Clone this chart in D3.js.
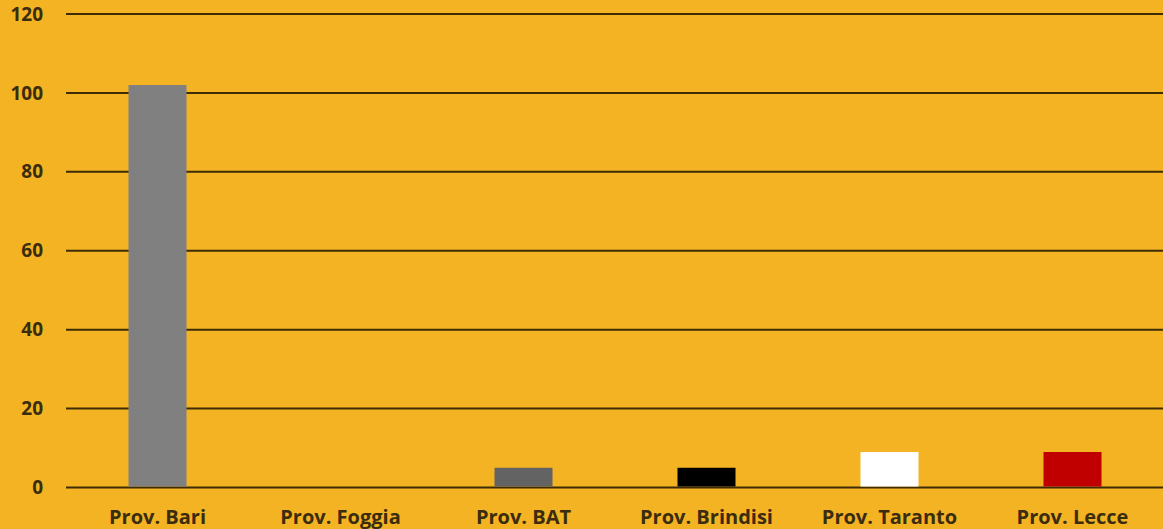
<!DOCTYPE html>
<html lang="it">
<head>
<meta charset="utf-8">
<title>Province</title>
<script src="https://cdn.jsdelivr.net/npm/d3@7"></script>
<style>
  html, body { margin: 0; padding: 0; background: #F4B323; }
  svg { display: block; }
  text { font-family: "Open Sans", "Noto Sans", sans-serif; font-weight: bold; fill: #3a2c0c; }
</style>
</head>
<body>
<svg width="1163" height="529"></svg>
<script>
// dati
var province = ["Prov. Bari", "Prov. Foggia", "Prov. BAT", "Prov. Brindisi", "Prov. Taranto", "Prov. Lecce"];
var valori = [102, 0, 5, 5, 9, 9];
var colori = ["#808080", "#808080", "#636363", "#000000", "#ffffff", "#c00000"];
var tickY = [0, 20, 40, 60, 80, 100, 120];

var svg = d3.select("svg");

var x = d3.scaleBand()
    .domain(province)
    .range([66, 1164])
    .paddingInner(0.683)
    .paddingOuter(0.3415);

var y = d3.scaleLinear()
    .domain([0, 120])
    .range([487.5, 14]);

// griglia
svg.append("g")
  .selectAll("line")
  .data(tickY)
  .enter()
    .append("line")
    .attr("x1", 66)
    .attr("x2", 1163)
    .attr("y1", function (d) { return y(d); })
    .attr("y2", function (d) { return y(d); })
    .attr("stroke", "#3d2d06")
    .attr("stroke-width", 2);

// etichette asse y
svg.append("g")
  .selectAll("text")
  .data(tickY)
  .enter()
    .append("text")
    .attr("x", 43)
    .attr("y", function (d) { return y(d); })
    .attr("dy", "0.35em")
    .attr("text-anchor", "end")
    .attr("font-size", 19)
    .text(function (d) { return d; });

// barre
svg.append("g")
  .selectAll("rect")
  .data(valori)
  .enter()
    .append("rect")
    .attr("x", function (d, i) { return x(province[i]); })
    .attr("width", x.bandwidth())
    .attr("y", function (d) { return y(d); })
    .attr("height", function (d) { return y(0) - y(d) - 1; })
    .attr("fill", function (d, i) { return colori[i]; });

// etichette asse x
svg.append("g")
  .selectAll("text")
  .data(province)
  .enter()
    .append("text")
    .attr("x", function (d) { return x(d) + x.bandwidth() / 2; })
    .attr("y", 517)
    .attr("dy", "0.35em")
    .attr("text-anchor", "middle")
    .attr("font-size", 20)
    .text(function (d) { return d; });
</script>
</body>
</html>
